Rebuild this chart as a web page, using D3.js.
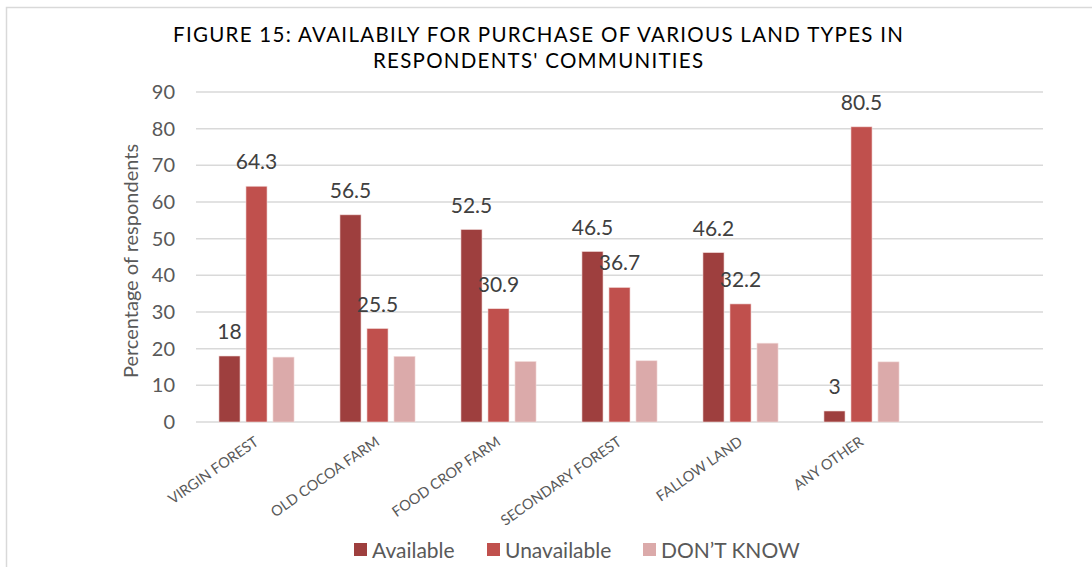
<!DOCTYPE html>
<html>
<head>
<meta charset="utf-8">
<script src="https://cdn.jsdelivr.net/npm/d3@7"></script>
<style>
  html, body { margin: 0; padding: 0; background: #fff; }
  svg { display: block; font-family: Lato, "Open Sans", sans-serif; }
</style>
</head>
<body>
<svg id="chart" width="1092" height="567"></svg>
<script>
const titleLines = ["FIGURE 15: AVAILABILY FOR PURCHASE OF VARIOUS LAND TYPES IN", "RESPONDENTS' COMMUNITIES"];
const categories = ["VIRGIN FOREST", "OLD COCOA FARM", "FOOD CROP FARM", "SECONDARY FOREST", "FALLOW LAND", "ANY OTHER"];
const seriesNames = ["Available", "Unavailable", "DON\u2019T KNOW"];
const available = [18, 56.5, 52.5, 46.5, 46.2, 3];
const unavailable = [64.3, 25.5, 30.9, 36.7, 32.2, 80.5];
const dontKnow = [17.7, 17.9, 16.5, 16.7, 21.5, 16.4];
const yTicks = [0, 10, 20, 30, 40, 50, 60, 70, 80, 90];
const yTitle = "Percentage of respondents";
const colors = ["#9E3F3E", "#C0504D", "#DBAAAA"];
// which series carry data labels
const labelled = [true, true, false];

const seriesValues = [available, unavailable, dontKnow];
const svg = d3.select("#chart");

// outer frame (chart area border, cut off at right/bottom)
svg.append("rect")
  .attr("x", 6.5).attr("y", 7.5)
  .attr("width", 1200).attr("height", 700)
  .attr("fill", "none").attr("stroke", "#D9D9D9").attr("stroke-width", 1.5);

const plot = { left: 196, right: 1043, top: 92, bottom: 422 };

// 7 category slots, last one empty
const slots = categories.concat([" "]);
const x0 = d3.scaleBand().domain(slots).range([plot.left, plot.right]).paddingInner(0).paddingOuter(0);
const x1 = d3.scaleBand().domain(seriesNames).range([0, x0.bandwidth()]).paddingInner(0.22).paddingOuter(0.85);
const y = d3.scaleLinear().domain([0, 90]).range([plot.bottom, plot.top]);

// gridlines
svg.append("g").selectAll("line").data(yTicks).join("line")
  .attr("x1", plot.left).attr("x2", plot.right)
  .attr("y1", d => y(d)).attr("y2", d => y(d))
  .attr("stroke", "#D9D9D9").attr("stroke-width", 1.5);

// y axis labels
const yAxis = d3.axisLeft(y).tickValues(yTicks).tickSize(0).tickPadding(0);
const yg = svg.append("g").attr("transform", `translate(${plot.left - 21},0)`).call(yAxis);
yg.select(".domain").remove();
yg.selectAll("text").attr("fill", "#595959").attr("font-size", 20).attr("font-family", "Lato, sans-serif");

// y title
svg.append("text")
  .attr("transform", `translate(138,${(plot.top + plot.bottom) / 2 + 4}) rotate(-90)`)
  .attr("text-anchor", "middle")
  .attr("fill", "#595959").attr("font-size", 20)
  .text(yTitle);

// bars
const groups = svg.append("g").selectAll("g").data(categories).join("g")
  .attr("transform", d => `translate(${x0(d)},0)`);

groups.selectAll("rect").data((d, i) => seriesNames.map((s, j) => ({ s, j, v: seriesValues[j][i] })))
  .join("rect")
  .attr("x", d => x1(d.s))
  .attr("width", x1.bandwidth())
  .attr("y", d => y(d.v))
  .attr("height", d => y(0) - y(d.v))
  .attr("fill", d => colors[d.j])
  .attr("stroke", "#F2DCDB").attr("stroke-width", 0.6);

// data labels
groups.selectAll("text.lbl").data((d, i) => seriesNames.map((s, j) => ({ s, j, v: seriesValues[j][i] })).filter(d => labelled[d.j]))
  .join("text").attr("class", "lbl")
  .attr("x", d => x1(d.s) + x1.bandwidth() / 2)
  .attr("y", d => y(d.v) - 17)
  .attr("text-anchor", "middle")
  .attr("fill", "#404040").attr("font-size", 21)
  .text(d => d.v);

// x axis labels (rotated)
svg.append("g").selectAll("text").data(categories).join("text")
  .attr("transform", d => `translate(${x0(d) + x0.bandwidth() / 2 + 3},${plot.bottom + 22}) rotate(-35)`)
  .attr("text-anchor", "end")
  .attr("fill", "#595959").attr("font-size", 14.5)
  .text(d => d);

// title
const titleWidths = [730, 330];
svg.append("g").selectAll("text").data(titleLines).join("text")
  .attr("x", 538).attr("y", (d, i) => 42 + i * 26)
  .attr("text-anchor", "middle")
  .attr("fill", "#000").attr("font-size", 20.5)
  .attr("textLength", (d, i) => titleWidths[i]).attr("lengthAdjust", "spacing")
  .text(d => d);

// legend
const legendX = [354, 487, 643];
const lg = svg.append("g").selectAll("g").data(seriesNames).join("g")
  .attr("transform", (d, i) => `translate(${legendX[i]},543)`);
lg.append("rect").attr("width", 13).attr("height", 13).attr("fill", (d, i) => colors[i]);
lg.append("text").attr("x", 18).attr("y", 15)
  .attr("fill", "#595959").attr("font-size", 21)
  .text(d => d);
</script>
</body>
</html>
